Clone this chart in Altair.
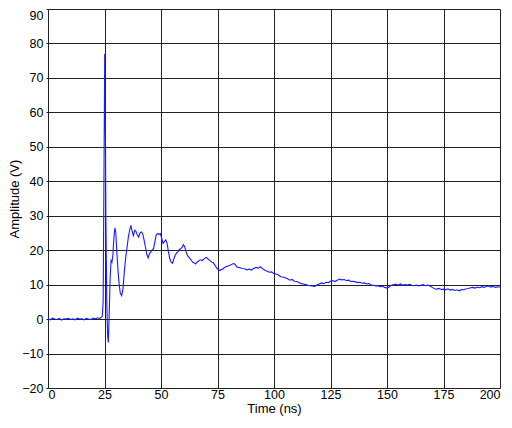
import altair as alt
import pandas as pd

time_ns = [
    0, 1, 2, 3, 4, 5, 6, 7, 8, 9, 10, 11, 12, 13, 14, 15, 16, 17, 18, 19, 20, 21, 22, 23, 24,
    24.4, 24.8, 25.1, 25.4, 25.6, 26.0, 26.4, 26.7, 27.1, 27.5, 27.9, 28.3, 28.7, 29.2, 29.6,
    30.0, 30.5, 31.0, 31.5, 32.0, 32.6, 33.2, 33.8, 34.4, 35.0, 35.6, 36.2, 36.7, 37.2, 37.8,
    38.4, 38.9, 39.5, 40.1, 40.7, 41.3, 41.9, 42.5, 43.1, 43.7, 44.3, 44.9, 45.5, 46.1, 46.7,
    47.3, 47.9, 48.5, 49.1, 49.7, 50.3, 50.9, 51.5, 52.1, 52.7, 53.3, 53.9, 54.5, 55.1, 55.7,
    56.3, 56.9, 57.5, 58.1, 58.7, 59.3, 59.9, 60.5, 61.1, 61.7, 62.3, 62.9, 63.5, 64.1, 64.7,
    65.3, 65.9, 66.5, 67.1, 67.7, 68.3, 68.9, 69.5, 70.1, 70.7, 71.3, 71.9, 72.5, 73.1, 73.7,
    74.3, 74.9, 75.5, 76.1, 76.7, 77.3, 77.9, 78.5, 79.1,
    80, 81, 82, 82.8, 83.5, 84.3, 85, 86, 87, 88, 89, 90, 91, 92, 93, 94, 95, 96, 97, 98, 99,
    100, 101, 102, 103, 104, 105, 106, 107, 108, 109, 110, 111, 112, 113, 114, 115, 116, 117,
    118, 119, 120, 121, 122, 123, 124, 125, 126, 127, 128, 129, 130, 131, 132, 133, 134, 135,
    136, 137, 138, 139, 140, 141, 142, 143, 144, 145, 146, 147, 148, 149, 150, 151, 152, 153,
    154, 155, 156, 157, 158, 159, 160, 161, 162, 163, 164, 165, 166, 167, 168, 169, 170, 171,
    172, 173, 174, 175, 176, 177, 178, 179, 180, 181, 182, 183, 184, 185, 186, 187, 188, 189,
    190, 191, 192, 193, 194, 195, 196, 197, 198, 199, 200,
]

amplitude_v = [
    0.1, -0.2, 0.3, 0.0, -0.1, 0.2, -0.3, 0.1, 0.0, 0.2, -0.1, 0.1, -0.2, 0.3, 0.0, 0.1, -0.2,
    0.2, 0.0, -0.1, 0.3, 0.1, 0.4, 0.2, 0.8,
    5, 45, 77, 55, 30, 5, -5, -6.8, 2, 12, 17, 16.5, 18.5, 24, 26.5,
    25, 19, 14, 10, 7.5, 6.8, 9, 14, 18, 21, 24, 26, 27.2, 25.5, 24.2,
    25.8, 25.5, 24.5, 23.8, 25, 25.3, 24.8, 23, 21, 18.8, 17.8, 19, 19.5, 20, 20.5,
    22.5, 24.5, 24.8, 24.6, 24.8, 23.5, 22, 22.5, 23, 22, 19.5, 17.5, 16.5, 16.2, 17.5,
    18.5, 19.2, 19.5, 20.2, 20.4, 20.8, 21.6, 21, 19.5, 18.5, 18, 17.5, 17, 16.5, 16.3,
    16, 16.5, 16.8, 17.1, 17.2, 17, 17.4, 17.7, 17.9, 17.5, 17.2, 16.8, 16.5, 16.4, 15.8,
    15.2, 14.6, 14.3, 14.1, 14.4, 14.5, 14.9, 15.1, 15.3,
    15.5, 15.8, 16.1, 15.9, 15.2, 15, 14.9, 14.7, 14.6, 14.3, 14.5, 14.2, 14.7, 15, 14.8, 15.2,
    14.6, 14.2, 13.9, 13.6, 13.7,
    13.2, 13.1, 12.8, 12.3, 12.2, 12, 11.7, 11.3, 11.5, 11, 10.9, 10.6, 10.3, 10.2, 10, 9.8,
    9.7, 9.6, 9.5, 9.9, 10.2, 10.5, 10.3, 10.7, 10.6, 11, 11.2, 10.9, 11.3, 11.6, 11.4, 11.5,
    11.2, 11.3, 10.9, 11, 10.8, 10.6, 10.7, 10.4, 10.5, 10.2, 10.3, 9.9, 9.8, 9.6, 9.7, 9.4,
    9.5, 9.2, 9.0, 9.4, 9.8, 10, 10.1, 9.9, 10.2, 9.8, 10, 9.9, 10.1, 9.8, 9.7, 9.9, 9.6,
    9.8, 10, 9.7, 9.9, 9.6, 9.2, 8.8, 8.7, 8.9, 8.6, 8.7, 8.5, 8.8, 8.4, 8.6, 8.3, 8.5, 8.2,
    8.6, 8.5, 8.8, 8.9, 9.1, 9.2, 9.0, 9.3, 9.1, 9.4, 9.2, 9.5, 9.6, 9.3, 9.5, 9.2, 9.4, 9.3,
]

x_ticks = [0, 25, 50, 75, 100, 125, 150, 175, 200]
y_ticks = [-20, -10, 0, 10, 20, 30, 40, 50, 60, 70, 80, 90]

df = pd.DataFrame({"t": time_ns, "v": amplitude_v})

FONT = "Liberation Sans"

chart = (
    alt.Chart(df)
    .mark_line(color="#1a1aff", strokeWidth=1.1, clip=True)
    .encode(
        x=alt.X(
            "t:Q",
            scale=alt.Scale(domain=[0, 200], nice=False, zero=False),
            axis=alt.Axis(
                values=x_ticks,
                title="Time (ns)",
                labelFontSize=12.5,
                titleFontSize=13,
                labelPadding=0,
                titlePadding=2,
                tickSize=0,
                domain=False,
                grid=True,
                gridColor="#222",
                gridWidth=1,
                gridOpacity=1,
                labelColor="black",
                titleColor="black",
                titleFontWeight="normal",
                labelFont=FONT,
                titleFont=FONT,
            ),
        ),
        y=alt.Y(
            "v:Q",
            scale=alt.Scale(domain=[-20, 90], nice=False, zero=False),
            axis=alt.Axis(
                values=y_ticks,
                title="Amplitude (V)",
                labelFontSize=12.5,
                titleFontSize=13,
                labelPadding=3,
                titlePadding=0,
                tickSize=2,
                tickColor="#222",
                domain=False,
                grid=True,
                gridColor="#222",
                gridWidth=1,
                gridOpacity=1,
                labelColor="black",
                titleColor="black",
                titleFontWeight="normal",
                labelFont=FONT,
                titleFont=FONT,
                labelBaseline={
                    "condition": {"test": "datum.value == 90", "value": "top"},
                    "value": "middle",
                },
            ),
        ),
    )
    .properties(
        width=452,
        height=379,
        padding={"left": 0, "top": 0, "right": 0, "bottom": 0},
    )
    .configure_view(stroke="black", strokeWidth=2.5)
    .configure(background="white")
)

chart.save("out.html", embed_options={"renderer": "svg", "actions": False})
